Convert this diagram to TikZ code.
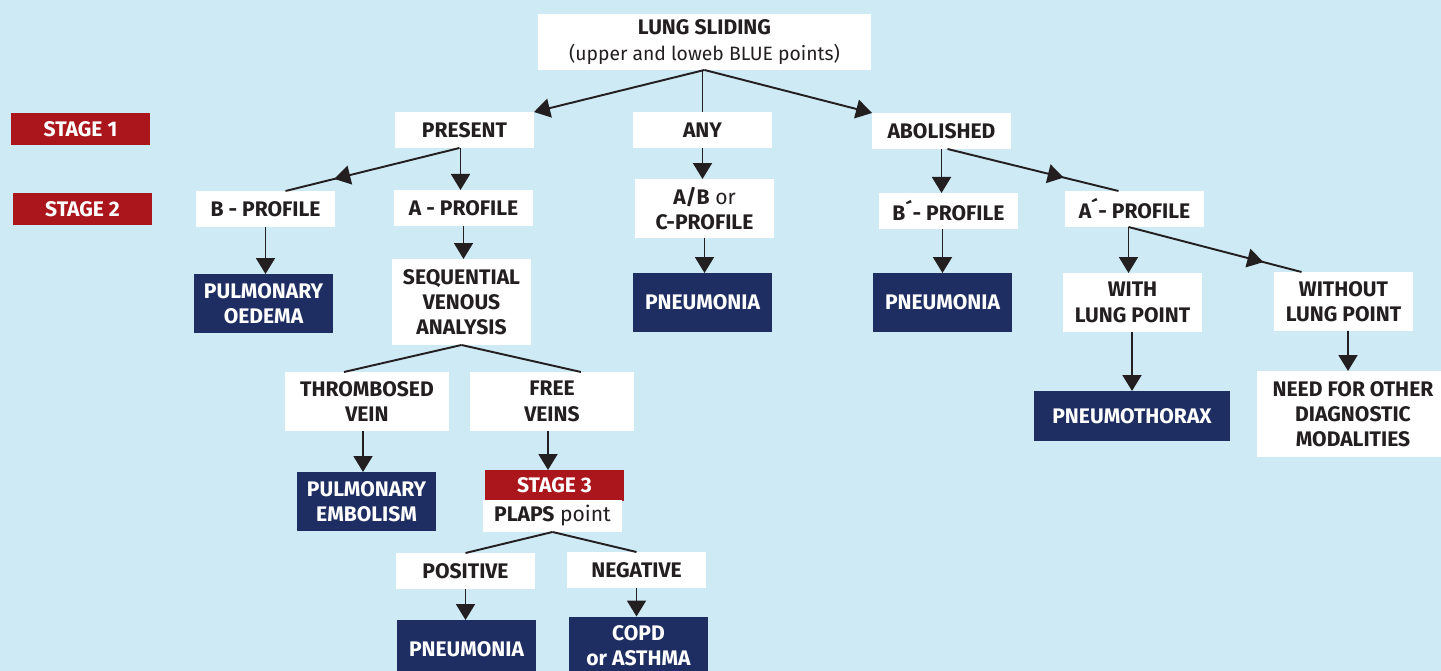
\documentclass[tikz,border=0pt]{standalone}
\usepackage{fontspec}
\setmainfont{Fira Sans}
\usetikzlibrary{arrows.meta,calc,decorations.markings}
\definecolor{bgBlue}{HTML}{CEEAF5}
\definecolor{stageRed}{HTML}{AB161C}
\definecolor{resultNavy}{HTML}{1F2E62}
\definecolor{inkBlack}{HTML}{231F20}
\tikzset{
  baseBox/.style = {rectangle, inner sep=0pt, outer sep=0pt, align=center,
    minimum width=2.78cm, minimum height=0.72cm,
    font=\fontsize{12}{14.4}\selectfont\bfseries},
  whiteBox/.style = {baseBox, fill=white, text=inkBlack},
  navyBox/.style = {baseBox, fill=resultNavy, text=white, minimum height=1.18cm},
  stageBox/.style = {baseBox, fill=stageRed, text=white, minimum height=0.64cm},
  flowLine/.style = {color=inkBlack, line width=1.1pt},
  flowArrow/.style = {flowLine, -{Triangle[length=0.32cm,width=0.38cm]}},
  midArrow/.style = {flowLine, postaction={decorate},
    decoration={markings, mark=at position #1 with
      {\arrow{Triangle[length=0.32cm,width=0.38cm]}}}}
}

\begin{document}
\begin{tikzpicture}[x=0.02cm,y=-0.02cm]
    % Background of the whole chart
    \fill[bgBlue] (0,0) rectangle (1441,671);
    \useasboundingbox (0,0) rectangle (1441,671);
    % Stage labels on the left
    \node[stageBox] (stageOne) at (80.5,129) {STAGE 1};
    \node[stageBox] (stageTwo) at (82.5,209) {STAGE 2};
    % Top of the tree
    \node[whiteBox, minimum width=6.66cm, minimum height=1.12cm,
      font=\fontsize{11}{14.4}\selectfont] (lung) at (704.5,42)
      {\textbf{\fontsize{12}{14.4}\selectfont LUNG SLIDING}\\(upper and loweb BLUE points)};
    % Stage 1 answers
    \node[whiteBox] (present) at (464.5,130) {PRESENT};
    \node[whiteBox] (any) at (702.5,130) {ANY};
    \node[whiteBox] (abolished) at (941.5,131) {ABOLISHED};
    % Stage 2 profiles
    \node[whiteBox] (bProfile) at (265.5,209) {B - PROFILE};
    \node[whiteBox] (aProfile) at (463.5,208) {A - PROFILE};
    \node[whiteBox, minimum height=1.18cm, font=\fontsize{12}{14.4}\selectfont]
      (abcProfile) at (704.5,208.5) {\textbf{A/B} or\\\textbf{C-PROFILE}};
    \node[whiteBox] (bPrimeProfile) at (948.5,211) {B´- PROFILE};
    \node[whiteBox] (aPrimeProfile) at (1134.5,209) {A´- PROFILE};
    % Third row
    \node[navyBox] (oedema) at (263.5,303.5) {PULMONARY\\OEDEMA};
    \node[whiteBox, minimum height=1.72cm] (venous) at (461.5,302)
      {SEQUENTIAL\\VENOUS\\ANALYSIS};
    \node[navyBox] (pneumoniaAny) at (702.5,302.5) {PNEUMONIA};
    \node[navyBox] (pneumoniaB) at (942.5,302.5) {PNEUMONIA};
    \node[whiteBox, minimum height=1.18cm] (withPoint) at (1132.5,302.5)
      {WITH\\LUNG POINT};
    \node[whiteBox, minimum height=1.18cm] (withoutPoint) at (1343.5,301.5)
      {WITHOUT\\LUNG POINT};
    % Vein analysis
    \node[whiteBox, minimum width=3.28cm, minimum height=1.18cm] (thrombosed)
      at (367,401.5) {THROMBOSED\\VEIN};
    \node[whiteBox, minimum width=3.28cm, minimum height=1.18cm] (freeVeins)
      at (552,401.5) {FREE\\VEINS};
    \node[navyBox] (embolism) at (366.5,501.5) {PULMONARY\\EMBOLISM};
    \node[navyBox, minimum width=3.92cm, minimum height=1.0cm] (pneumothorax)
      at (1132,416) {PNEUMOTHORAX};
    \node[whiteBox, minimum width=3.84cm, minimum height=1.72cm] (otherModes)
      at (1353,414) {NEED FOR OTHER\\DIAGNOSTIC\\MODALITIES};
    % Stage 3
    \node[stageBox, minimum height=0.62cm] (stageThree) at (554.5,485.5) {STAGE 3};
    \node[whiteBox, minimum height=0.64cm, font=\fontsize{12}{14.4}\selectfont]
      (plaps) at (552.5,516) {\textbf{PLAPS} point};
    \node[whiteBox] (positive) at (465.5,571) {POSITIVE};
    \node[whiteBox] (negative) at (636.5,570) {NEGATIVE};
    \node[navyBox] (pneumoniaPlaps) at (466.5,649.5) {PNEUMONIA};
    \node[navyBox] (copd) at (638.5,646) {COPD\\or ASTHMA};
    % Connectors from lung sliding
    \draw[flowArrow] (lung.south) -- (present.north east);
    \draw[flowLine] (any.north |- lung.south) -- (any.north);
    \draw[flowArrow] (lung.south) -- (abolished.north west);
    % Connectors of the present branch
    \draw[midArrow=0.72] ($(present.south)+(-5,0)$) -- ($(bProfile.north)+(20,0)$);
    \draw[flowArrow] ($(present.south)+(-4,0)$) -- ($(aProfile.north)+(-3,0)$);
    \draw[flowArrow] (bProfile.south) -- (bProfile.south |- oedema.north);
    \draw[flowArrow] (aProfile.south) -- (aProfile.south |- venous.north);
    \draw[flowLine] (venous.south) -- ($(thrombosed.north)+(-23,0)$);
    \draw[flowLine] (venous.south) -- ($(freeVeins.north)+(29,0)$);
    \draw[flowArrow] ($(thrombosed.south)+(-4,0)$) -- ($(embolism.north)+(-3.5,0)$);
    \draw[flowArrow] ($(freeVeins.south)+(-4,0)$) -- ($(stageThree.north)+(-6.5,0)$);
    \draw[flowLine] (plaps.south) -- (positive.north);
    \draw[flowLine] (plaps.south) -- (negative.north);
    \draw[flowArrow] (positive.south) -- (positive.south |- pneumoniaPlaps.north);
    \draw[flowArrow] (negative.south) -- (negative.south |- copd.north);
    % Connectors of the any branch
    \draw[flowArrow] (any.south) -- (any.south |- abcProfile.north);
    \draw[flowArrow] (abcProfile.south) -- (abcProfile.south |- pneumoniaAny.north);
    % Connectors of the abolished branch
    \draw[flowArrow] (abolished.south) -- (abolished.south |- bPrimeProfile.north);
    \draw[midArrow=0.68] ($(abolished.south)+(6,0)$) -- ($(aPrimeProfile.north)+(-16,0)$);
    \draw[flowArrow] (pneumoniaB.north |- bPrimeProfile.south) -- (pneumoniaB.north);
    \draw[flowArrow] ($(aPrimeProfile.south)+(-6,0)$) -- ($(withPoint.north)+(-4,0)$);
    \draw[midArrow=0.78] ($(aPrimeProfile.south)+(-6,0)$) -- ($(withoutPoint.north)+(-42,0)$);
    \draw[flowArrow] (pneumothorax.north |- withPoint.south) -- (pneumothorax.north);
    \draw[flowArrow] ($(withoutPoint.south)+(4.5,0)$) -- ($(otherModes.north)+(-5,0)$);
\end{tikzpicture}
\end{document}
